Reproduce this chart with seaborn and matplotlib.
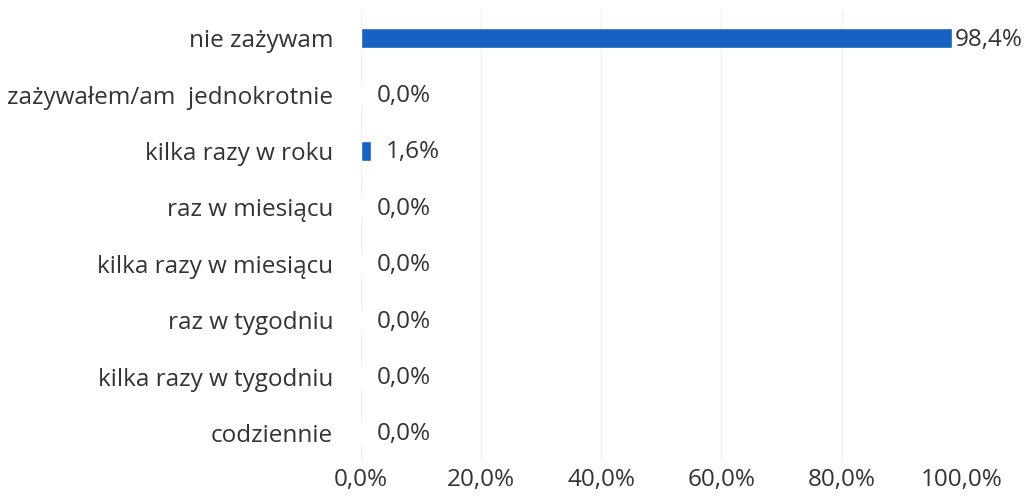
import matplotlib
matplotlib.use("Agg")
import matplotlib.pyplot as plt
import seaborn as sns
import pandas as pd

# dane z wykresu
categories = ["nie zażywam", "zażywałem/am  jednokrotnie", "kilka razy w roku",
              "raz w miesiącu", "kilka razy w miesiącu", "raz w tygodniu",
              "kilka razy w tygodniu", "codziennie"]
values = [98.4, 0.0, 1.6, 0.0, 0.0, 0.0, 0.0, 0.0]
xticks = [0, 20, 40, 60, 80, 100]

df = pd.DataFrame({"kat": categories, "val": values})

sns.set_style("white")
plt.rcParams["font.family"] = ["Open Sans", "DejaVu Sans"]

fig = plt.figure(figsize=(10.27, 5.0), dpi=100)
ax = fig.add_axes([0.3515, 0.0776, 0.585, 0.9024])

sns.barplot(data=df, x="val", y="kat", color="#1761c2", width=0.355,
            saturation=1, ax=ax, zorder=3)

ax.set_xlim(0, 100)
ax.set_ylim(7.5, -0.5)
ax.set_xticks(xticks)
ax.set_xticklabels([f"{t:.1f}%".replace(".", ",") for t in xticks])
ax.grid(axis="x", color="#f0f0f0", linewidth=1, zorder=0)
ax.set_xlabel("")
ax.set_ylabel("")
for s in ax.spines.values():
    s.set_visible(False)
ax.tick_params(axis="both", length=0, labelsize=17.5, labelcolor="#333333")
ax.tick_params(axis="x", pad=5)
ax.tick_params(axis="y", pad=20)

for i, v in enumerate(values):
    off = 2 if v > 90 else 11
    ax.annotate(f"{v:.1f}%".replace(".", ","), (v, i), xytext=(off, -1),
                textcoords="offset points", va="center", ha="left",
                fontsize=17.5, color="#333333")

fig.savefig("out.png", dpi=100)
